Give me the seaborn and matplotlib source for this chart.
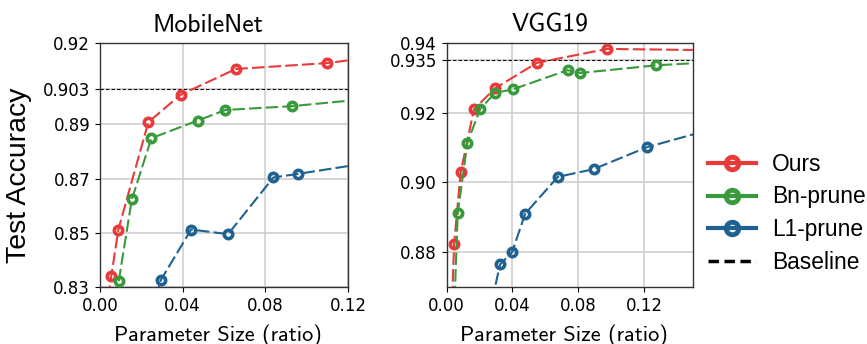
import matplotlib
matplotlib.use("Agg")
import matplotlib.pyplot as plt
from matplotlib.lines import Line2D
import seaborn as sns

# colours
red = '#e8393b'
green = '#389a3a'
blue = '#1f6190'

# MobileNet -- first entry starts below the axis, last entry is the dashed tail
mob_ours_x = [0.004, 0.0055, 0.0089, 0.0234, 0.039, 0.0657, 0.110, 0.12]
mob_ours_y = [0.826, 0.8341, 0.8512, 0.8908, 0.9009, 0.9104, 0.9126, 0.9136]
mob_bn_x = [0.0085, 0.0091, 0.0154, 0.0249, 0.0473, 0.0607, 0.0928, 0.12]
mob_bn_y = [0.826, 0.8322, 0.8623, 0.8849, 0.8914, 0.8953, 0.8967, 0.8987]
mob_l1_x = [0.027, 0.0294, 0.0441, 0.062, 0.0839, 0.0956, 0.12]
mob_l1_y = [0.826, 0.8325, 0.8512, 0.8495, 0.8704, 0.8717, 0.8746]
mob_baseline = 0.903

# VGG19
vgg_ours_x = [0.003, 0.0045, 0.0085, 0.0166, 0.0294, 0.0548, 0.0975, 0.15]
vgg_ours_y = [0.862, 0.8822, 0.9029, 0.9210, 0.9270, 0.9343, 0.9383, 0.9380]
vgg_bn_x = [0.0045, 0.0067, 0.0126, 0.0203, 0.0294, 0.0402, 0.0735, 0.0812, 0.1275, 0.15]
vgg_bn_y = [0.862, 0.8911, 0.9114, 0.9210, 0.9257, 0.9267, 0.9322, 0.9314, 0.9336, 0.9342]
vgg_l1_x = [0.0275, 0.0325, 0.0398, 0.0477, 0.0676, 0.0893, 0.1218, 0.15]
vgg_l1_y = [0.866, 0.8765, 0.8800, 0.8910, 0.9016, 0.9038, 0.9101, 0.9138]
vgg_baseline = 0.935

mob_yticks = [0.83, 0.85, 0.87, 0.89, 0.903, 0.92]
mob_ylabels = ['0.83', '0.85', '0.87', '0.89', '0.903', '0.92']
vgg_yticks = [0.88, 0.90, 0.92, 0.935, 0.94]
vgg_ylabels = ['0.88', '0.90', '0.92', '0.935', '0.94']
xticks = [0.0, 0.04, 0.08, 0.12]
xlabels = ['0.00', '0.04', '0.08', '0.12']

labels = ['Ours', 'Bn-prune', 'L1-prune']
colors = [red, green, blue]

plt.rcParams['font.family'] = ['DejaVu Sans']
title_font = 'cmss10'


def draw_panel(ax, series, baseline, title, title_x, xlim, ylim, yticks, ylabels):
    for (xs, ys), c in zip(series, colors):
        # markers only on the measured points, not on the ends
        sns.lineplot(x=xs, y=ys, ax=ax, color=c, errorbar=None, sort=False,
                     linestyle=(0, (6, 2)), linewidth=1.5,
                     marker='o', markersize=6, markerfacecolor='none',
                     markeredgecolor=c, markeredgewidth=2.6,
                     markevery=list(range(1, len(xs) - 1)), zorder=3)
    ax.axhline(baseline, color='black', linestyle=(0, (3, 2)), linewidth=0.8, zorder=2)
    ax.set_xlim(*xlim)
    ax.set_ylim(*ylim)
    ax.set_xticks(xticks)
    ax.set_xticklabels(xlabels, fontsize=12)
    ax.set_yticks(yticks)
    ax.set_yticklabels(ylabels, fontsize=12)
    ax.grid(True, color='#cccccc', linewidth=1.1)
    ax.set_axisbelow(True)
    ax.set_title(title, fontsize=18.5, family=title_font, pad=8, x=title_x)
    ax.set_xlabel('Parameter Size (ratio)', fontsize=16, family=title_font)
    ax.xaxis.set_label_coords(0.475, -0.152)
    for s in ax.spines.values():
        s.set_color('#333333')
        s.set_linewidth(1.0)


fig = plt.figure(figsize=(8.67, 3.44), dpi=100)
ax1 = fig.add_axes([0.1153, 0.1657, 0.2861, 0.7093])
ax2 = fig.add_axes([0.5152, 0.1657, 0.2845, 0.7093])

draw_panel(ax1, [(mob_ours_x, mob_ours_y), (mob_bn_x, mob_bn_y), (mob_l1_x, mob_l1_y)],
           mob_baseline, 'MobileNet', 0.435, (0, 0.12), (0.83, 0.92), mob_yticks, mob_ylabels)
draw_panel(ax2, [(vgg_ours_x, vgg_ours_y), (vgg_bn_x, vgg_bn_y), (vgg_l1_x, vgg_l1_y)],
           vgg_baseline, 'VGG19', 0.419, (0, 0.15), (0.87, 0.94), vgg_yticks, vgg_ylabels)

ax1.set_ylabel('Test Accuracy', fontsize=20.5, family='Liberation Sans')
ax1.yaxis.set_label_coords(-0.272, 0.46)

handles = [Line2D([], [], color=c, linewidth=3, marker='o', markersize=9,
                  markerfacecolor='none', markeredgecolor=c, markeredgewidth=3.5)
           for c in colors]
handles.append(Line2D([], [], color='black', linewidth=2.5, linestyle=(0, (3, 1.6))))
fig.legend(handles, labels + ['Baseline'], loc='center left', bbox_to_anchor=(0.793, 0.38),
           frameon=False, prop={'family': 'Liberation Sans', 'size': 16.4},
           handlelength=2.1, handletextpad=0.7, labelspacing=0.42)

fig.savefig('out.png', dpi=100)
